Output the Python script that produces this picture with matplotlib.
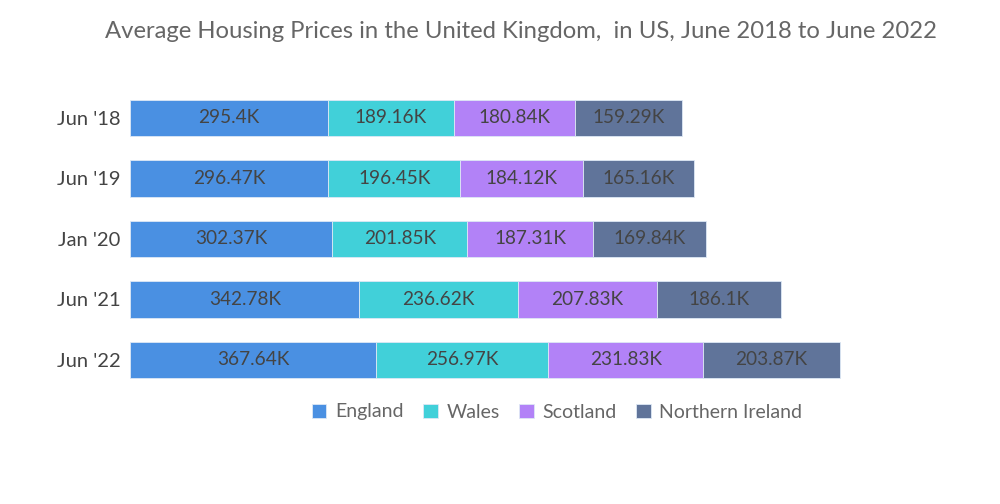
import numpy as np
import matplotlib.pyplot as plt

plt.rcParams['font.family'] = ['Lato', 'DejaVu Sans']

periods = ["Jun '18", "Jun '19", "Jan '20", "Jun '21", "Jun '22"]
regions = ['England', 'Wales', 'Scotland', 'Northern Ireland']
england = [295.4, 296.47, 302.37, 342.78, 367.64]
wales = [189.16, 196.45, 201.85, 236.62, 256.97]
scotland = [180.84, 184.12, 187.31, 207.83, 231.83]
n_ireland = [159.29, 165.16, 169.84, 186.1, 203.87]
colors = ['#4a90e2', '#41d0d9', '#b282f7', '#60749a']

fig = plt.figure(figsize=(10, 5.04), dpi=100)
ax = fig.add_axes([0.13, 0.2257, 0.87, 0.6002])

y = np.arange(len(periods))
left = np.zeros(len(periods))
for name, vals, c in zip(regions, [england, wales, scotland, n_ireland], colors):
    vals = np.array(vals)
    ax.barh(y, vals, left=left, height=0.6, color=c, label=name,
            edgecolor='#dde8f5', linewidth=0.6)
    for yi, l, v in zip(y, left, vals):
        ax.text(l + v / 2, yi, f'{v:g}K', ha='center', va='center',
                fontsize=13.7, color='#444444')
    left += vals

ax.set_xlim(0, 1300)
ax.set_ylim(4.5, -0.5)
ax.set_yticks(y)
ax.set_yticklabels(periods, fontsize=14.5, color='#444444')
ax.set_xticks([])
ax.tick_params(axis='y', length=0, pad=7)
for s in ax.spines.values():
    s.set_visible(False)

fig.text(0.521, 1 - 31 / 504, 'Average Housing Prices in the United Kingdom,  in US, June 2018 to June 2022',
         ha='center', va='center', fontsize=17.2, color='#666666')

fig.legend(loc='center', bbox_to_anchor=(0.557, 1 - 412 / 504), ncol=4, frameon=False,
           handlelength=0.75, handleheight=0.75, handletextpad=0.45, columnspacing=1.0,
           prop={'size': 14}, labelcolor='#666666')

fig.savefig('out.png', dpi=100)
